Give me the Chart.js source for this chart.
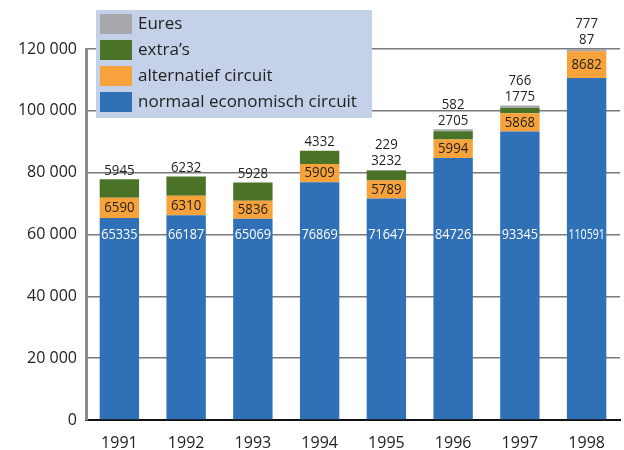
<!DOCTYPE html>
<html>
<head>
<meta charset="utf-8">
<script src="https://cdn.jsdelivr.net/npm/chart.js@4"></script>
<style>
  html, body { margin: 0; padding: 0; background: #fff; }
  #wrap { width: 624px; height: 450px; }
</style>
</head>
<body>
<div id="wrap"><canvas id="bar-chart"></canvas></div>
<script>
// data
var years = ["1991", "1992", "1993", "1994", "1995", "1996", "1997", "1998"];
var normaal = [65335, 66187, 65069, 76869, 71647, 84726, 93345, 110591];
var alternatief = [6590, 6310, 5836, 5909, 5789, 5994, 5868, 8682];
var extras = [5945, 6232, 5928, 4332, 3232, 2705, 1775, 87];
var eures = [0, 0, 0, 0, 229, 582, 766, 777];
var yTicks = [0, 20000, 40000, 60000, 80000, 100000, 120000];

var FONT = "'Open Sans', 'DejaVu Sans', sans-serif";
var INK = "#222222";

function spaced(v) {
  return String(v).replace(/\B(?=(\d{3})+(?!\d))/g, " ");
}

// squeezed text, the original uses a narrow face
function squeeze(ctx, txt, x, y, maxW) {
  var w = ctx.measureText(txt).width;
  var k = Math.min(0.88, maxW / w);
  ctx.save();
  ctx.translate(x, y);
  ctx.scale(k, 1);
  ctx.fillText(txt, 0, 0);
  ctx.restore();
}

// value labels on and above the bars
var barLabels = {
  id: "barLabels",
  afterDatasetsDraw: function(chart) {
    var ctx = chart.ctx;
    var y = chart.scales.y;
    var m0 = chart.getDatasetMeta(0), m1 = chart.getDatasetMeta(1),
        m2 = chart.getDatasetMeta(2), m3 = chart.getDatasetMeta(3);
    ctx.save();
    ctx.font = "15px " + FONT;
    ctx.textAlign = "center";
    ctx.textBaseline = "middle";
    years.forEach(function(yr, i) {
      var bar = m0.data[i];
      var x = bar.x;
      var bw = bar.width - 3;
      ctx.fillStyle = "#ffffff";
      squeeze(ctx, String(normaal[i]), x, y.getPixelForValue(60000), bw);
      ctx.fillStyle = INK;
      var o = m1.data[i];
      squeeze(ctx, String(alternatief[i]), x, (o.y + o.base) / 2, bw);
      var top = Math.min(m2.data[i].y, eures[i] ? m3.data[i].y : Infinity);
      squeeze(ctx, String(extras[i]), x, top - 9, bw);
      if (eures[i]) squeeze(ctx, String(eures[i]), x, top - 25, bw);
    });
    ctx.restore();
  }
};

// boxed legend sitting over the top-left of the plot
var boxLegend = {
  id: "boxLegend",
  afterDraw: function(chart) {
    var ctx = chart.ctx;
    ctx.save();
    ctx.fillStyle = "#c5d1e9";
    ctx.fillRect(96, 10, 276, 108);
    var order = [3, 2, 1, 0];
    ctx.font = "17px " + FONT;
    ctx.textBaseline = "middle";
    ctx.textAlign = "left";
    order.forEach(function(d, k) {
      var ds = chart.data.datasets[d];
      var top = 14 + k * 26;
      ctx.fillStyle = ds.backgroundColor;
      ctx.fillRect(100, top, 32, 20);
      ctx.fillStyle = INK;
      ctx.fillText(ds.label, 138, top + 10);
    });
    ctx.restore();
  }
};

new Chart(document.getElementById("bar-chart"), {
  type: "bar",
  data: {
    labels: years,
    datasets: [
      { label: "normaal economisch circuit", data: normaal, backgroundColor: "#2f70b6" },
      { label: "alternatief circuit", data: alternatief, backgroundColor: "#f7a23b" },
      { label: "extra\u2019s", data: extras, backgroundColor: "#4a7328" },
      { label: "Eures", data: eures, backgroundColor: "#a7a8ab" }
    ]
  },
  options: {
    responsive: true,
    maintainAspectRatio: false,
    animation: false,
    layout: { padding: { top: 49, right: 4, left: 0, bottom: 0 } },
    datasets: { bar: { barPercentage: 1, categoryPercentage: 0.59 } },
    plugins: { legend: { display: false }, tooltip: { enabled: false } },
    scales: {
      x: {
        stacked: true,
        grid: { display: false },
        border: { color: "#111111", width: 2 },
        ticks: { color: INK, font: { family: FONT, size: 16 }, padding: 6 },
        afterFit: function(s) { s.height = 30; }
      },
      y: {
        stacked: true,
        min: 0,
        max: 120000,
        afterBuildTicks: function(s) { s.ticks = yTicks.map(function(v) { return { value: v }; }); },
        grid: { color: "#7a7a7a", lineWidth: 1.5, tickLength: 0 },
        border: { color: "#8a8a8a", width: 3 },
        ticks: { color: INK, font: { family: FONT, size: 16 }, padding: 9, callback: spaced },
        afterFit: function(s) { s.width = 86; }
      }
    }
  },
  plugins: [barLabels, boxLegend]
});
</script>
</body>
</html>
